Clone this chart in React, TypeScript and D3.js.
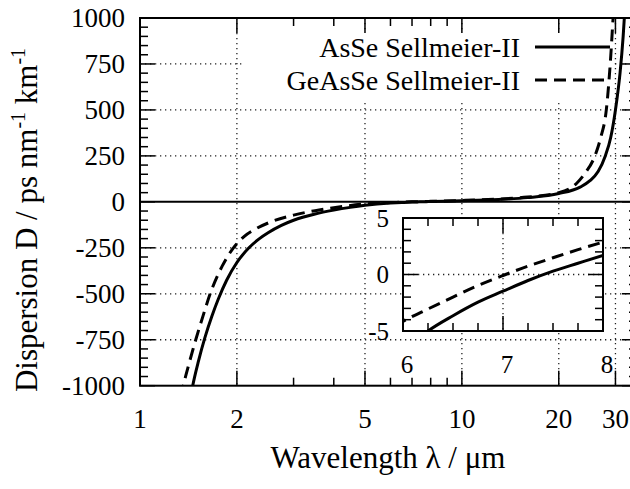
import React from 'react';
import * as d3 from 'd3';

// AsSe Sellmeier-II (solid) : wavelength in um, dispersion in ps/nm/km
const asseLambda = [1.44, 1.458, 1.52, 1.59, 1.67, 1.75, 1.86, 2.0, 2.18, 2.35, 2.5, 2.75, 3, 3.5, 4, 4.5, 5, 6, 6.25, 6.5, 6.75, 7, 7.25, 7.5, 7.75, 8, 10, 13, 16, 20, 23.3, 25, 26.5, 27.9, 29, 30, 31, 31.7, 32.1, 32.4];
const asseD = [-1050, -1000, -865, -740, -625, -530, -425, -330, -250, -200, -168, -128, -100, -66, -45, -30, -19, -6.8, -5.0, -3.65, -2.45, -1.48, -0.53, 0.3, 1.0, 1.69, 6, 13, 23, 45, 80, 115, 165, 250, 350, 500, 700, 900, 1050, 1150];

// GeAsSe Sellmeier-II (dashed)
const geasseLambda = [1.34, 1.363, 1.42, 1.49, 1.57, 1.652, 1.8, 1.951, 2.1, 2.3, 2.5, 3, 3.5, 4, 5, 6, 6.25, 6.5, 6.75, 7, 7.25, 7.5, 7.75, 8, 10, 13, 16, 20, 22.7, 24, 25.9, 27, 28.1, 28.9, 29.5, 29.9];
const geasseD = [-1060, -1000, -880, -750, -620, -500, -350, -250, -190, -145, -115, -72, -48, -32, -11.5, -4.15, -3.05, -2.0, -0.98, -0.09, 0.74, 1.48, 2.2, 2.87, 7.5, 15, 26, 50, 100, 150, 250, 350, 500, 750, 1000, 1150];

const xMajor = [1, 2, 5, 10, 20, 30];
const xMinor = [3, 4, 6, 7, 8, 9];
const xGrid = [2, 5, 10, 20, 30];
const yMajor = [-1000, -750, -500, -250, 0, 250, 500, 750, 1000];
const yGrid = [-750, -500, -250, 250, 500, 750];
const insetXMajor = [6, 7, 8];
const insetYMajor = [-5, 0, 5];

const legendNames = ['AsSe Sellmeier-II', 'GeAsSe Sellmeier-II'];

const W = 630;
const H = 489;

function Txt(props: any) {
  const { children, ...rest } = props;
  return <text style={{ fontFamily: "'Liberation Serif'" }} {...rest}>{children}</text>;
}

export default function App() {
  const x = d3.scaleLog().domain([1, 35]).range([140, 637]);
  const y = d3.scaleLinear().domain([-1000, 1000]).range([385.7, 18]);
  const ix = d3.scaleLinear().domain([6, 8]).range([403, 603]);
  const iy = d3.scaleLinear().domain([-5, 5]).range([331, 218]);

  const pts = (lam: number[], d: number[]) => lam.map((l, i) => [l, d[i]] as [number, number]);
  const asse = pts(asseLambda, asseD);
  const geasse = pts(geasseLambda, geasseD);

  const mainLine = d3.line<[number, number]>().x(d => x(d[0])).y(d => y(d[1])).curve(d3.curveMonotoneX);
  const insetLine = d3.line<[number, number]>().x(d => ix(d[0])).y(d => iy(d[1])).curve(d3.curveMonotoneX);

  const yMinor = d3.range(-1000, 1001, 50).filter(v => v % 250 !== 0);
  const ixMinor = d3.range(6, 8.001, 0.25).filter(v => Math.abs(v - Math.round(v)) > 0.01);
  const iyMinor = d3.range(-5, 5.001, 1).filter(v => v % 5 !== 0);

  const [x0, x1] = x.range();
  const [yb, yt] = y.range();
  const [ix0, ix1] = ix.range();
  const [iyb, iyt] = iy.range();

  const dot = { stroke: '#222', strokeWidth: 1.3, strokeDasharray: '1.3,3.7' };
  const dash = '12,7';

  return (
    <svg width={W} height={H} style={{ position: 'absolute', left: 0, top: 0, background: '#fff' }}>
      <defs>
        <clipPath id="mainClip"><rect x={x0} y={yt} width={x1 - x0} height={yb - yt} /></clipPath>
        <clipPath id="insetClip"><rect x={ix0} y={iyt} width={ix1 - ix0} height={iyb - iyt} /></clipPath>
      </defs>
      <rect width={W} height={H} fill="#fff" />

      {/* grid */}
      {xGrid.map(v => <line key={'gx' + v} x1={x(v)} x2={x(v)} y1={yt} y2={yb} {...dot} />)}
      {yGrid.map(v => <line key={'gy' + v} x1={x0} x2={x1} y1={y(v)} y2={y(v)} {...dot} />)}

      {/* key box */}
      <rect x={245} y={33} width={368} height={67} fill="#fff" />
      {legendNames.map((n, i) => (
        <g key={n}>
          <Txt x={520} y={57 + i * 33} textAnchor="end" fontSize={28}>{n}</Txt>
          <line x1={535} x2={610} y1={47 + i * 33} y2={47 + i * 33} stroke="#000" strokeWidth={3} strokeDasharray={i ? dash : undefined} />
        </g>
      ))}

      {/* zero axis */}
      <line x1={x0} x2={x1} y1={y(0)} y2={y(0)} stroke="#000" strokeWidth={2} />

      <g clipPath="url(#mainClip)" fill="none" stroke="#000" strokeWidth={3}>
        <path d={mainLine(asse) || ''} />
        <path d={mainLine(geasse) || ''} strokeDasharray={dash} />
      </g>

      {/* frame + ticks */}
      <rect x={x0} y={yt} width={x1 - x0} height={yb - yt} fill="none" stroke="#000" strokeWidth={2} />
      <g stroke="#000" strokeWidth={1.5}>
        {xMajor.map(v => (
          <g key={'xm' + v}>
            <line x1={x(v)} x2={x(v)} y1={yb} y2={yb - 15} />
            <line x1={x(v)} x2={x(v)} y1={yt} y2={yt + 15} />
          </g>
        ))}
        {xMinor.map(v => (
          <g key={'xn' + v}>
            <line x1={x(v)} x2={x(v)} y1={yb} y2={yb - 8} />
            <line x1={x(v)} x2={x(v)} y1={yt} y2={yt + 8} />
          </g>
        ))}
        {yMajor.map(v => (
          <g key={'ym' + v}>
            <line x1={x0} x2={x0 + 15} y1={y(v)} y2={y(v)} />
            <line x1={x1} x2={x1 - 15} y1={y(v)} y2={y(v)} />
          </g>
        ))}
        {yMinor.map(v => (
          <g key={'yn' + v}>
            <line x1={x0} x2={x0 + 8} y1={y(v)} y2={y(v)} />
            <line x1={x1} x2={x1 - 8} y1={y(v)} y2={y(v)} />
          </g>
        ))}
      </g>

      {/* tick labels */}
      {xMajor.map(v => (
        <Txt key={'xl' + v} x={x(v)} y={428} textAnchor="middle" fontSize={27}>{v}</Txt>
      ))}
      {yMajor.map(v => (
        <Txt key={'yl' + v} x={125} y={y(v)} dy="0.35em" textAnchor="end" fontSize={27}>{v}</Txt>
      ))}

      {/* inset */}
      <rect x={ix0} y={iyt} width={ix1 - ix0} height={iyb - iyt} fill="#fff" />
      <line x1={ix(7)} x2={ix(7)} y1={iyt} y2={iyb} {...dot} />
      <line x1={ix0} x2={ix1} y1={iy(0)} y2={iy(0)} {...dot} />
      <g clipPath="url(#insetClip)" fill="none" stroke="#000" strokeWidth={3}>
        <path d={insetLine(asse) || ''} />
        <path d={insetLine(geasse) || ''} strokeDasharray={dash} />
      </g>
      <rect x={ix0} y={iyt} width={ix1 - ix0} height={iyb - iyt} fill="none" stroke="#000" strokeWidth={2} />
      <g stroke="#000" strokeWidth={1.5}>
        {insetXMajor.map(v => (
          <g key={'ixm' + v}>
            <line x1={ix(v)} x2={ix(v)} y1={iyb} y2={iyb - 15} />
            <line x1={ix(v)} x2={ix(v)} y1={iyt} y2={iyt + 15} />
          </g>
        ))}
        {ixMinor.map(v => (
          <g key={'ixn' + v}>
            <line x1={ix(v)} x2={ix(v)} y1={iyb} y2={iyb - 8} />
            <line x1={ix(v)} x2={ix(v)} y1={iyt} y2={iyt + 8} />
          </g>
        ))}
        {insetYMajor.map(v => (
          <g key={'iym' + v}>
            <line x1={ix0} x2={ix0 + 15} y1={iy(v)} y2={iy(v)} />
            <line x1={ix1} x2={ix1 - 15} y1={iy(v)} y2={iy(v)} />
          </g>
        ))}
        {iyMinor.map(v => (
          <g key={'iyn' + v}>
            <line x1={ix0} x2={ix0 + 8} y1={iy(v)} y2={iy(v)} />
            <line x1={ix1} x2={ix1 - 8} y1={iy(v)} y2={iy(v)} />
          </g>
        ))}
      </g>
      {insetXMajor.map(v => (
        <Txt key={'ixl' + v} x={ix(v) + 4} y={373} textAnchor="middle" fontSize={25}>{v}</Txt>
      ))}
      {insetYMajor.map(v => (
        <Txt key={'iyl' + v} x={389} y={iy(v)} dy="0.35em" textAnchor="end" fontSize={25}>{v}</Txt>
      ))}

      {/* axis titles */}
      <Txt x={388} y={468} textAnchor="middle" fontSize={31}>Wavelength λ / μm</Txt>
      <Txt transform="translate(37,220) rotate(-90)" textAnchor="middle" fontSize={31}>
        Dispersion D / ps nm<tspan fontSize={20} dy={-12}>-1</tspan><tspan dy={12}> km</tspan><tspan fontSize={20} dy={-12}>-1</tspan>
      </Txt>
    </svg>
  );
}
